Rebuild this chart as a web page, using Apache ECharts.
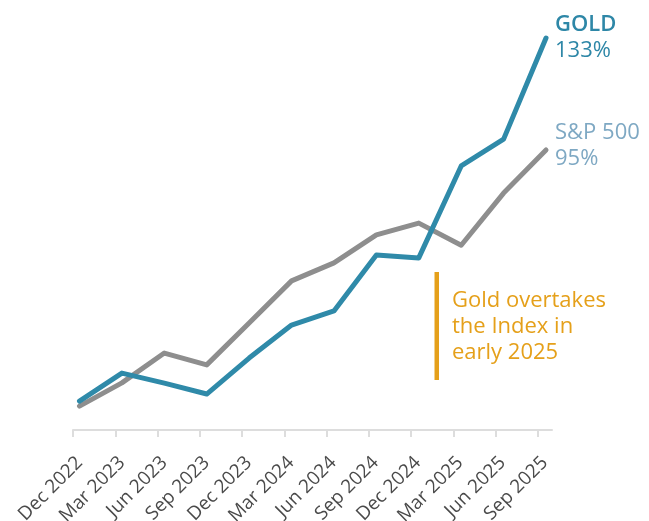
<!DOCTYPE html>
<html>
<head>
<meta charset="utf-8">
<script src="https://cdn.jsdelivr.net/npm/echarts@6/dist/echarts.min.js"></script>
<style>
html,body{margin:0;padding:0;background:#fff;}
#chart{width:649px;height:521px;}
</style>
</head>
<body>
<div id="chart"></div>
<script>
var categories = ['Dec 2022','Mar 2023','Jun 2023','Sep 2023','Dec 2023','Mar 2024','Jun 2024','Sep 2024','Dec 2024','Mar 2025','Jun 2025','Sep 2025'];
var goldValues = [9.8, 19.3, 15.9, 12.2, 24.4, 35.6, 40.4, 59.4, 58.4, 89.6, 98.7, 133];
var spValues   = [8.1, 16.0, 26.1, 22.1, 36.3, 50.6, 56.7, 66.2, 70.2, 62.7, 80.4, 95];
var goldLabel = ['GOLD', '133%'];
var spLabel = ['S&P 500', '95%'];
var annotationLines = ['Gold overtakes', 'the Index in', 'early 2025'];

function pairs(vals){ return vals.map(function(v,i){ return [i, v]; }); }

var FONT = '"Open Sans", "Noto Sans", sans-serif';
var chart = echarts.init(document.getElementById('chart'), null, {renderer:'canvas'});
chart.setOption({
  animation: false,
  backgroundColor: '#ffffff',
  grid: { left: 73, right: 97, top: 17.4, bottom: 90, containLabel: false, outerBoundsMode: 'none' },
  xAxis: [
    {
      type: 'value', min: 0, max: 11.33, interval: 1,
      axisLine: { show: true, lineStyle: { color: '#dddddd', width: 2 } },
      axisTick: { show: true, length: 7, lineStyle: { color: '#dddddd', width: 2 } },
      splitLine: { show: false },
      axisLabel: {
        rotate: 45, margin: 22, fontSize: 19, color: '#4a4a4a', fontFamily: FONT,
        verticalAlign: 'top',
        showMaxLabel: false,
        formatter: function(v){ return categories[Math.round(v)] || ''; }
      }
    },
    {
      type: 'value', min: -0.153, max: 11.141, show: false
    }
  ],
  yAxis: { type: 'value', min: -0.34, max: 140, show: false },
  series: [
    {
      name: 'S&P 500', type: 'line', xAxisIndex: 1, data: pairs(spValues),
      symbol: 'none',
      lineStyle: { color: '#8e8e8e', width: 5, cap: 'round', join: 'round' },
      endLabel: {
        show: true, distance: 9, offset: [0, -4],
        formatter: function(){ return '{a|' + spLabel[0] + '}\n{a|' + spLabel[1] + '}'; },
        rich: { a: { fontSize: 22, lineHeight: 26, color: '#7ea8c3', fontFamily: FONT } }
      }
    },
    {
      name: 'GOLD', type: 'line', xAxisIndex: 1, data: pairs(goldValues),
      symbol: 'none',
      lineStyle: { color: '#2f8aa9', width: 5, cap: 'round', join: 'round' },
      endLabel: {
        show: true, distance: 9, offset: [0, 0],
        formatter: function(){ return '{b|' + goldLabel[0] + '}\n{a|' + goldLabel[1] + '}'; },
        rich: {
          b: { fontSize: 22, lineHeight: 26, color: '#2e87a7', fontWeight: 600, fontFamily: FONT },
          a: { fontSize: 22, lineHeight: 26, color: '#2e87a7', fontFamily: FONT }
        }
      }
    }
  ],
  graphic: [
    { type: 'rect', shape: { x: 434.5, y: 272, width: 4.5, height: 108 }, style: { fill: '#e5a01a' } },
    {
      type: 'text', left: 452, top: 288,
      style: {
        text: annotationLines.join('\n'), fill: '#e5a01a',
        font: '22px ' + FONT, lineHeight: 26
      }
    }
  ]
});
</script>
</body>
</html>
